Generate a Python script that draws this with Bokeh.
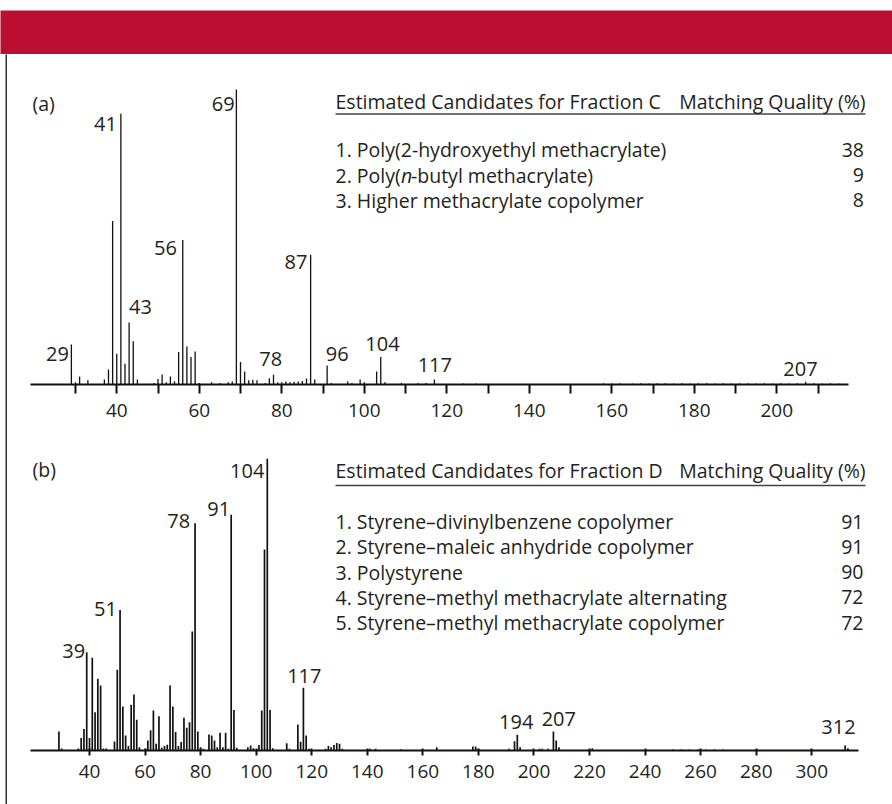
from bokeh.plotting import figure
from bokeh.models import ColumnDataSource, LinearAxis, FixedTicker, Label, Range1d
from bokeh.layouts import column, row
from bokeh.embed import file_html
from bokeh.resources import INLINE
from bokeh.core.properties import value

# ---------------- data ----------------
# Panel (a): Fraction C mass spectrum (m/z, relative intensity %)
a_mz = [29, 30, 31, 33, 37, 38, 39, 40, 41, 42, 43, 44, 45, 49, 50, 51, 52, 53, 54,
        55, 56, 57, 58, 59, 60, 63, 65, 67, 68, 69, 70, 71, 72, 73, 74, 76, 77, 78,
        79, 80, 81, 82, 83, 84, 85, 86, 87, 88, 91, 92, 96, 97, 99, 100, 103, 104,
        105, 109, 113, 115, 117, 124, 127,
        158, 160, 162, 165, 167, 169, 171, 173, 175, 177, 179, 181, 183, 185, 187,
        189, 191, 193, 195, 197, 199, 201, 203, 205, 207, 209, 211, 213, 215]
a_int = [13.6, 0.8, 2.7, 1.4, 1.7, 5.1, 55.4, 10.4, 91.8, 7.0, 21.0, 14.7, 1.7, 0.5, 1.9,
         3.4, 0.8, 2.7, 1.1, 11.0, 49.0, 12.9, 9.3, 11.2, 0.5, 0.8, 0.5, 0.8, 1.0, 100.0,
         7.6, 4.4, 1.4, 1.6, 1.4, 0.5, 2.1, 3.3, 0.8, 0.8, 1.0, 0.8, 0.9, 1.0, 1.2, 2.0,
         44.0, 1.7, 6.4, 0.5, 1.0, 0.5, 1.7, 0.8, 4.4, 9.3, 0.8, 0.5, 0.5, 0.5, 1.7, 0.3,
         0.3,
         0.4, 0.3, 0.4, 0.3, 0.4, 0.3, 0.4, 0.4, 0.3, 0.4, 0.3, 0.4, 0.4, 0.3, 0.4,
         0.3, 0.4, 0.4, 0.3, 0.4, 0.3, 0.4, 0.3, 0.4, 0.9, 0.4, 0.3, 0.4, 0.3]
a_labels = ["29", "41", "43", "56", "69", "78", "87", "96", "104", "117", "207"]
a_ticks = [40, 60, 80, 100, 120, 140, 160, 180, 200]
a_minor = [30, 50, 70, 90, 110, 130, 150, 170, 190, 210]
a_title = "Estimated Candidates for Fraction C"
a_cands = ["1. Poly(2-hydroxyethyl methacrylate)", "2. Poly(", "3. Higher methacrylate copolymer"]
a_quality = ["38", "9", "8"]

# Panel (b): Fraction D mass spectrum
b_mz = [29, 30, 36, 37, 38, 39, 40, 41, 42, 43, 44, 45, 46, 49, 50, 51, 52, 53, 54, 55,
        56, 57, 58, 60, 61, 62, 63, 64, 65, 66, 67, 68, 69, 70, 71, 72, 73, 74, 75, 76,
        77, 78, 79, 80, 81, 83, 84, 85, 86, 87, 88, 89, 90, 91, 92, 93, 97, 98, 99,
        101, 102, 103, 104, 105, 106, 111, 112, 115, 116, 117, 118, 119, 125, 126, 127,
        128, 129, 130, 131, 141, 143, 152, 165, 178, 179, 180, 191, 193, 194, 195, 202,
        203, 205, 207, 208, 209, 221, 250, 253, 256, 259, 262, 265, 268, 312, 313]
b_int = [6.5, 0.7, 0.7, 4.3, 7.4, 33.7, 4.3, 31.8, 13.1, 24.6, 22.3, 0.7, 0.7, 3.1, 27.7,
         48.2, 15.1, 5.1, 1.5, 15.7, 19.2, 10.5, 1.1, 0.6, 3.4, 6.9, 13.7, 2.3, 11.7, 0.9,
         1.5, 2.0, 22.3, 15.1, 6.3, 1.5, 2.9, 11.2, 7.8, 9.7, 40.8, 77.9, 6.5, 1.1, 0.6,
         5.5, 5.1, 3.4, 1.1, 6.1, 1.1, 6.1, 0.6, 80.8, 13.9, 0.9, 1.1, 1.7, 0.8, 1.9,
         13.7, 68.9, 100.0, 13.9, 0.8, 2.5, 0.6, 8.9, 3.0, 21.5, 5.1, 0.6, 0.6, 1.5, 1.1,
         1.9, 2.6, 2.3, 0.6, 0.6, 0.6, 0.4, 1.1, 1.4, 1.4, 0.6, 0.6, 3.2, 5.4, 1.1, 0.6,
         0.6, 0.6, 6.5, 3.4, 1.1, 0.8, 0.3, 0.3, 0.3, 0.3, 0.3, 0.3, 0.3, 1.7, 0.8]
b_labels = ["39", "51", "78", "91", "104", "117", "194", "207", "312"]
b_ticks = [40, 60, 80, 100, 120, 140, 160, 180, 200, 220, 240, 260, 280, 300]
b_title = "Estimated Candidates for Fraction D"
b_cands = ["1. Styrene\u2013divinylbenzene copolymer",
           "2. Styrene\u2013maleic anhydride copolymer",
           "3. Polystyrene",
           "4. Styrene\u2013methyl methacrylate alternating",
           "5. Styrene\u2013methyl methacrylate copolymer"]
b_quality = ["91", "91", "90", "72", "72"]
quality_title = "Matching Quality (%)"

# ---------------- layout helpers (image pixel -> data) ----------------
FONT = "Open Sans"
TXT = "#231f20"
TOTAL_W = 892
HEADER_H = 54
X0 = 7                # x of panel frames' left edge
W = TOTAL_W - X0
A_H, B_H = 376, 374
FIX = 0.34            # baseline correction (fraction of font size)

def ax(px): return 30 + (px - 75) / 4.125
def ay(py): return (384 - py) / 2.95
def bx(px): return 40 + (px - 89) / 2.778
def by(py): return (750 - py) / 2.917

# label positions (center x, baseline y), in image pixels
a_lab_pos = [(57, 360), (105, 130), (140, 313.3), (165, 254), (222.8, 110), (270.3, 365.7),
             (295.5, 268.3), (336.7, 360), (382, 350), (434.3, 371.7), (800, 375)]
b_lab_pos = [(73.3, 657.3), (105, 615), (178.3, 527.7), (218.3, 515), (246.7, 477.3),
             (303.8, 682.7), (515.7, 728.3), (558.3, 725), (838, 733.3)]
PEAK_FS = 20
TAB_FS = 19.5

def base_fig(height, xr, yr, bottom):
    p = figure(width=W, height=height, x_range=xr, y_range=yr,
               x_axis_type=None, y_axis_type=None, toolbar_location=None,
               output_backend="svg", min_border_left=0, min_border_right=0,
               min_border_top=0, min_border_bottom=bottom)
    p.outline_line_color = None
    p.background_fill_color = "white"
    p.border_fill_color = "white"
    return p

def add_label(p, fx, fy, px, py, text, size=TAB_FS, align="left", style="normal"):
    p.add_layout(Label(x=fx(px), y=fy(py - FIX * size), text=text, text_font=FONT,
                       text_font_size=f"{size}px", text_color=TXT, text_align=align,
                       text_baseline="alphabetic", text_font_style=style))

def style_axis(a, out, tin, standoff):
    a.axis_line_width = 2
    a.axis_line_color = "#111"
    a.major_tick_in = tin
    a.major_tick_out = out
    a.major_tick_line_width = 2
    a.major_tick_line_color = "#111"
    a.major_label_text_font = FONT
    a.major_label_text_font_size = "19px"
    a.major_label_text_color = TXT
    a.major_label_standoff = standoff

# ---------------- header band ----------------
header = figure(width=TOTAL_W, height=HEADER_H, toolbar_location=None, output_backend="svg",
                x_axis_type=None, y_axis_type=None, min_border_left=0, min_border_right=0,
                min_border_top=10, min_border_bottom=0)
header.background_fill_color = "#BB0E30"
header.border_fill_color = "white"
header.outline_line_color = None
header.grid.visible = False

# ---------------- panel (a) ----------------
pa = base_fig(A_H, Range1d(ax(X0), ax(X0 + W)), Range1d(0, ay(HEADER_H)), 46)
src_a = ColumnDataSource(dict(mz=a_mz, inten=a_int))
pa.segment(x0="mz", y0=0, x1="mz", y1="inten", source=src_a, line_color="#111", line_width=1.3)

xa = LinearAxis(ticker=FixedTicker(ticks=a_ticks, minor_ticks=a_minor), bounds=(ax(30), ax(848)))
style_axis(xa, 9, 0, 10)
xa.minor_tick_in = 0
xa.minor_tick_out = 9
xa.minor_tick_line_width = 2
xa.minor_tick_line_color = "#111"
pa.add_layout(xa, "below")

src_al = ColumnDataSource(dict(x=[ax(p[0]) for p in a_lab_pos],
                               y=[ay(p[1] - FIX * PEAK_FS) for p in a_lab_pos], t=a_labels))
pa.text(x="x", y="y", text="t", source=src_al, text_font=value(FONT),
        text_font_size=value(f"{PEAK_FS}px"), text_align="center",
        text_baseline="alphabetic", text_color=TXT)

add_label(pa, ax, ay, 32, 110, "(a)")
add_label(pa, ax, ay, 335, 107.3, a_title)
add_label(pa, ax, ay, 865, 107.3, quality_title, align="right")
pa.line(x=[ax(335), ax(865)], y=[ay(113.5), ay(113.5)], line_color="#444", line_width=1.6)
rows_a = [156, 181.3, 206.6]
add_label(pa, ax, ay, 335, rows_a[0], a_cands[0])
add_label(pa, ax, ay, 335, rows_a[1], a_cands[1])
add_label(pa, ax, ay, 400.4, rows_a[1], "n", style="italic")
add_label(pa, ax, ay, 410.5, rows_a[1], "-butyl methacrylate)")
add_label(pa, ax, ay, 335, rows_a[2], a_cands[2])
for r, q in zip(rows_a, a_quality):
    add_label(pa, ax, ay, 863.5, r, q, align="right")

# ---------------- panel (b) ----------------
pb = base_fig(B_H, Range1d(bx(X0), bx(X0 + W)), Range1d(0, by(HEADER_H + A_H)), 54)
src_b = ColumnDataSource(dict(mz=b_mz, inten=b_int))
pb.segment(x0="mz", y0=0, x1="mz", y1="inten", source=src_b, line_color="#111", line_width=1.7)

xb = LinearAxis(ticker=FixedTicker(ticks=b_ticks, minor_ticks=[]), bounds=(bx(30), bx(858)))
style_axis(xb, 5, 2, 9)
xb.minor_tick_line_color = None
pb.add_layout(xb, "below")

src_bl = ColumnDataSource(dict(x=[bx(p[0]) for p in b_lab_pos],
                               y=[by(p[1] - FIX * PEAK_FS) for p in b_lab_pos], t=b_labels))
pb.text(x="x", y="y", text="t", source=src_bl, text_font=value(FONT),
        text_font_size=value(f"{PEAK_FS}px"), text_align="center",
        text_baseline="alphabetic", text_color=TXT)

add_label(pb, bx, by, 32, 476, "(b)")
add_label(pb, bx, by, 335, 476.7, b_title)
add_label(pb, bx, by, 865, 476.7, quality_title, align="right")
pb.line(x=[bx(335), bx(865)], y=[by(485), by(485)], line_color="#444", line_width=1.6)
rows_b = [527.7, 553, 578.3, 603.6, 629]
for r, c, q in zip(rows_b, b_cands, b_quality):
    add_label(pb, bx, by, 335, r, c)
    add_label(pb, bx, by, 863, r, q, align="right")

# ---------------- left border ----------------
border = figure(width=X0, height=A_H + B_H, toolbar_location=None, output_backend="svg",
                x_axis_type=None, y_axis_type=None, min_border_left=5, min_border_right=0,
                min_border_top=0, min_border_bottom=0)
border.background_fill_color = "#333333"
border.border_fill_color = "white"
border.outline_line_color = None
border.grid.visible = False

layout = column(header, row(border, column(pa, pb)))
open("out.html", "w").write(file_html(layout, INLINE))
